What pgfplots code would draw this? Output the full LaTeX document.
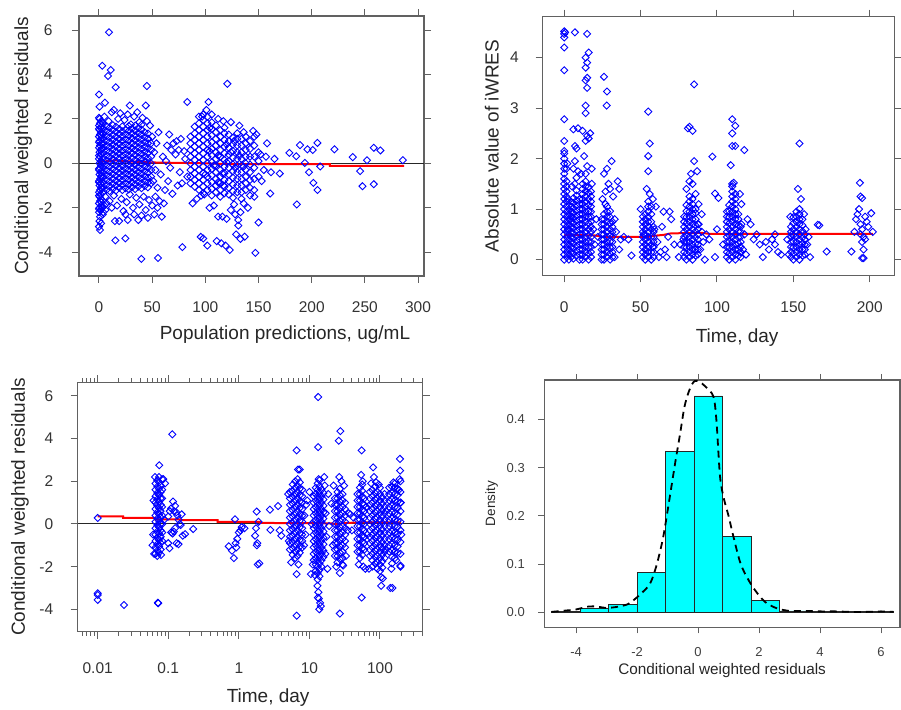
\documentclass[border=0pt]{standalone}
\usepackage{pgfplots}
\pgfplotsset{compat=1.18}
\usepackage{fontspec}
\setmainfont{Liberation Sans}
\definecolor{framegray}{gray}{0.38}
\definecolor{cy}{RGB}{0,255,255}
\pgfplotsset{
  panel/.style={
    scale only axis, anchor=south west,
    axis line style={framegray, line width=1.1pt},
    tick align=outside, major tick length=7pt, minor tick length=4pt,
    tick style={framegray, line width=1pt},
    tick label style={font=\fontsize{15.5}{18}\selectfont, text=black!80},
    label style={font=\fontsize{19}{22}\selectfont, text=black!85},
    xlabel style={anchor=center},
    ylabel style={anchor=center},
  },
  pts/.style={only marks, mark=square, mark size=2.5pt,
    mark options={rotate=45, draw=blue, fill=none, line width=0.9pt}},
}
\begin{document}
\begin{tikzpicture}
\useasboundingbox (0pt,0pt) rectangle (901pt,709pt);

% ---------------- Panel 1 ----------------
\begin{axis}[panel, at={(79pt,433pt)}, width=345pt, height=260pt,
  xmin=-18.8, xmax=305.6, ymin=-5.07, ymax=6.63,
  xtick={0,50,100,150,200,250,300}, xticklabels={0,50,100,150,200,250,300},
  ytick={-4,-2,0,2,4,6}, yticklabels={-4,-2,0,2,4,6},
  xticklabel shift=15pt, yticklabel shift=16pt,
  xlabel={Population predictions, ug/mL}, ylabel={Conditional weighted residuals},
  xlabel style={at={(axis description cs:0.597,-0.227)}},
  ylabel style={at={(axis description cs:-0.162,0.5)}}]
\addplot[pts] coordinates {
(0,-2.2)(1.5,-2.1)(0.5,-2.0)(2,-1.9)(0,-1.8)(1,-1.7)(2,-1.6)(0.5,-1.5)(1.5,-1.4)(0,-1.3)(1,-1.2)(2,-1.1)(0.5,-1.0)(1.5,-0.9)(0,-0.8)(1,-0.7)(2,-0.6)(0.5,-0.5)(1.5,-0.4)(0,-0.3)(1,-0.2)(2,-0.1)(0.5,0.0)(1.5,0.1)(0,0.2)(1,0.3)(2,0.4)(0.5,0.5)(1.5,0.6)(0,0.7)(1,0.8)(2,0.9)(0.5,1.0)(1.5,1.1)(0,1.2)(1,1.3)(2,1.4)(0.5,1.5)(1.5,1.6)(0,1.7)(1,1.8)(2,1.9)(0.5,2.0)(0,2.05)
(0,-2.05)(2.5,-1.75)(0,-1.45)(2.5,-1.15)(0,-0.85)(2.5,-0.55)(0,-0.25)(2.5,0.05)(0,0.35)(2.5,0.65)(0,0.95)(2.5,1.25)(0,1.55)(2.5,1.85)
(3,-2.0)(4,-2.2)(5,-1.9)(6,-2.1)(3.5,-2.3)(7,-1.8)
(0,3.1)(0.5,2.55)(5.6,2.73)(0,-2.85)(1,-3.0)(0.5,-2.6)(2,-2.7)(1,-2.4)
(4,-1.3)(4,-1.08)(4,-0.86)(4,-0.64)(4,-0.42)(4,-0.2)(4,0.02)(4,0.24)(4,0.46)(4,0.68)(4,0.9)(4,1.12)(4,1.34)(4,1.56)(4,1.78)
(7,-1.2)(7,-0.97)(7,-0.75)(7,-0.53)(7,-0.31)(7,-0.09)(7,0.13)(7,0.35)(7,0.57)(7,0.79)(7,1.01)(7,1.23)(7,1.45)(7,1.67)
(10,-1.25)(10,-1.03)(10,-0.81)(10,-0.59)(10,-0.37)(10,-0.15)(10,0.07)(10,0.29)(10,0.51)(10,0.73)(10,0.95)(10,1.17)(10,1.39)(10,1.61)
(13,-1.15)(13,-0.92)(13,-0.7)(13,-0.48)(13,-0.26)(13,-0.04)(13,0.18)(13,0.4)(13,0.62)(13,0.84)(13,1.06)(13,1.28)(13,1.5)(13,1.72)
(16,-1.22)(16,-1.0)(16,-0.78)(16,-0.56)(16,-0.34)(16,-0.12)(16,0.1)(16,0.32)(16,0.54)(16,0.76)(16,0.98)(16,1.2)(16,1.42)(16,1.64)
(19,-1.1)(19,-0.88)(19,-0.66)(19,-0.44)(19,-0.22)(19,0.0)(19,0.22)(19,0.44)(19,0.66)(19,0.88)(19,1.1)(19,1.32)(19,1.54)
(22,-1.2)(22,-0.98)(22,-0.76)(22,-0.54)(22,-0.32)(22,-0.1)(22,0.12)(22,0.34)(22,0.56)(22,0.78)(22,1.0)(22,1.22)(22,1.44)(22,1.66)
(25,-1.12)(25,-0.9)(25,-0.68)(25,-0.46)(25,-0.24)(25,-0.02)(25,0.2)(25,0.42)(25,0.64)(25,0.86)(25,1.08)(25,1.3)(25,1.52)
(28,-1.18)(28,-0.96)(28,-0.74)(28,-0.52)(28,-0.3)(28,-0.08)(28,0.14)(28,0.36)(28,0.58)(28,0.8)(28,1.02)(28,1.24)(28,1.46)(28,1.68)
(31,-1.08)(31,-0.86)(31,-0.64)(31,-0.42)(31,-0.2)(31,0.02)(31,0.24)(31,0.46)(31,0.68)(31,0.9)(31,1.12)(31,1.34)(31,1.56)
(34,-1.16)(34,-0.94)(34,-0.72)(34,-0.5)(34,-0.28)(34,-0.06)(34,0.16)(34,0.38)(34,0.6)(34,0.82)(34,1.04)(34,1.26)(34,1.48)(34,1.7)
(37,-1.05)(37,-0.83)(37,-0.61)(37,-0.39)(37,-0.17)(37,0.05)(37,0.27)(37,0.49)(37,0.71)(37,0.93)(37,1.15)(37,1.37)(37,1.59)
(40,-1.12)(40,-0.9)(40,-0.68)(40,-0.46)(40,-0.24)(40,-0.02)(40,0.2)(40,0.42)(40,0.64)(40,0.86)(40,1.08)(40,1.3)(40,1.52)(40,1.74)
(43,-1.02)(43,-0.8)(43,-0.58)(43,-0.36)(43,-0.14)(43,0.08)(43,0.3)(43,0.52)(43,0.74)(43,0.96)(43,1.18)(43,1.4)
(46,-1.08)(46,-0.86)(46,-0.64)(46,-0.42)(46,-0.2)(46,0.02)(46,0.24)(46,0.46)(46,0.68)(46,0.9)(46,1.12)(46,1.34)
(49,-0.9)(49,-0.6)(49,-0.3)(49,0.0)(49,0.3)(49,0.6)(49,0.9)
(5,2.1)(9,1.9)(12,2.3)(18,2.0)(24,1.95)(27,2.2)(33,2.1)(38,1.85)(41,2.05)(45,1.9)(48,1.7)(20,2.25)(30,1.75)(36,2.3)
(6,-1.5)(10,-1.7)(14,-1.45)(17,-1.9)(21,-1.6)(23,-2.15)(26,-1.75)(29,-1.4)(32,-2.0)(35,-1.55)(38,-1.85)(42,-1.5)(44,-2.1)(47,-1.65)(19,-2.6)(27,-2.55)(37,-2.55)(46,-2.45)(25,-2.3)(33,-2.3)(40,-2.35)(15,-2.6)(12,-2.0)
(9.4,5.9)(3.1,4.39)(11,4.2)(8.5,3.93)(15.7,3.42)(45,3.48)(14,2.4)(29,2.6)(44,2.6)(15.4,-3.47)(24.8,-3.38)(39.8,-4.3)(55.5,-4.26)
(50,1.2)(52,0.5)(53,-0.3)(55,-1.1)(51,-0.8)(54,0.9)(56,1.4)(58,-0.5)(60,0.3)(62,-1.2)(57,-1.7)(59,-2.4)(64,0.8)(66,1.3)(68,0.6)(67,-0.2)(69,-1.37)(70,0.9)(65,-0.8)(72,0.4)(73,1.0)(75,0.6)(76,-0.4)(78,-0.9)(80,0.55)(83,-0.6)(81,0.2)(77,1.1)(74,-1.0)(63,0.1)(61,-1.8)(53,-1.5)(50,-1.9)(52,-2.3)(55,-2.0)(78.4,-3.77)(83,2.76)
(86,-0.9)(86,-0.6)(86,-0.3)(86,0.0)(86,0.3)(86,0.6)(86,0.9)(86,1.2)
(90,-1.05)(90,-0.75)(90,-0.45)(90,-0.15)(90,0.15)(90,0.45)(90,0.75)(90,1.05)(90,1.35)(90,1.65)
(94,-1.2)(94,-0.9)(94,-0.6)(94,-0.3)(94,0.0)(94,0.3)(94,0.6)(94,0.9)(94,1.2)(94,1.5)(94,1.8)(94,2.1)
(98,-1.35)(98,-1.05)(98,-0.75)(98,-0.45)(98,-0.15)(98,0.15)(98,0.45)(98,0.75)(98,1.05)(98,1.35)(98,1.65)(98,1.95)(98,2.2)
(102,-1.2)(102,-0.9)(102,-0.6)(102,-0.3)(102,0.0)(102,0.3)(102,0.6)(102,0.9)(102,1.2)(102,1.5)(102,1.8)(102,2.1)
(106,-1.45)(106,-1.15)(106,-0.85)(106,-0.55)(106,-0.25)(106,0.05)(106,0.35)(106,0.65)(106,0.95)(106,1.25)(106,1.55)(106,1.85)
(110,-1.3)(110,-1.0)(110,-0.7)(110,-0.4)(110,-0.1)(110,0.2)(110,0.5)(110,0.8)(110,1.1)(110,1.4)(110,1.7)
(114,-1.5)(114,-1.2)(114,-0.9)(114,-0.6)(114,-0.3)(114,0.0)(114,0.3)(114,0.6)(114,0.9)(114,1.2)(114,1.5)
(118,-1.35)(118,-1.05)(118,-0.75)(118,-0.45)(118,-0.15)(118,0.15)(118,0.45)(118,0.75)(118,1.05)(118,1.35)(118,1.6)
(122,-1.4)(122,-1.1)(122,-0.8)(122,-0.5)(122,-0.2)(122,0.1)(122,0.4)(122,0.7)(122,1.0)(122,1.3)
(126,-1.55)(126,-1.25)(126,-0.95)(126,-0.65)(126,-0.35)(126,-0.05)(126,0.25)(126,0.55)(126,0.85)(126,1.15)
(130,-1.3)(130,-1.0)(130,-0.7)(130,-0.4)(130,-0.1)(130,0.2)(130,0.5)(130,0.8)(130,1.1)(130,1.35)
(134,-1.6)(134,-1.3)(134,-1.0)(134,-0.7)(134,-0.4)(134,-0.1)(134,0.2)(134,0.5)(134,0.8)(134,1.1)
(138,-1.2)(138,-0.9)(138,-0.6)(138,-0.3)(138,0.0)(138,0.3)(138,0.6)(138,0.9)(138,1.2)
(142,-1.45)(142,-1.1)(142,-0.75)(142,-0.4)(142,-0.05)(142,0.3)(142,0.65)(142,1.0)
(146,-1.2)(146,-0.7)(146,-0.2)(146,0.3)(146,0.8)(146,1.2)(150,-0.6)(150,0.1)(150,0.5)
(108,-0.1)(112,0.35)(116,-0.45)(120,0.05)(124,0.5)(128,-0.2)(104,0.55)(100,-0.5)(132,0.35)(136,-0.15)(112,-0.85)(120,0.85)(127,1.0)(104,1.6)(117,-1.0)
(88,-1.8)(92,-1.6)(96,-1.45)(99,-1.4)(104,-2.0)(108,-1.9)(112,-2.4)(116,-2.4)(120,-2.5)(124,-2.1)(128,-2.3)(131,-2.55)(133,-2.2)(136,-1.8)(140,-2.0)(127,-1.85)(95.7,-3.31)(98,-3.38)(101.9,-3.70)(110.7,-3.5)(115,-3.6)(119,-3.7)(123,-3.9)(129,-3.2)(133,-3.4)(137,-3.3)(131,-2.8)(147,-4.03)(150,-2.66)(146,-1.5)
(103,2.76)(120.7,3.58)(97,2.1)(101,2.4)(106,2.2)(112,2.0)(117,1.9)(124,1.85)(132,1.7)(136,1.4)(145,1.46)(148,1.3)
(152,0.4)(155,-0.3)(157,0.3)(161,-1.36)(161.7,-0.4)(170,-0.46)(179,0.47)(185.5,0.32)(189,0.82)(196,0.63)(201,0.6)(205.4,0.92)(193.5,0.02)(197.5,-0.4)(201.6,-0.88)(205.4,-1.2)(208,-0.14)(186,-1.85)(221.4,0.63)(238.6,0.28)(245.5,-0.35)(247.7,-1.03)(252,0.14)(258.4,0.7)(264.6,0.58)(258.4,-0.94)(285.7,0.14)(153,-0.8)(158,0.9)(165,0.2)
};
\addplot[black!85, line width=1pt] coordinates {(-18.8,0) (305.6,0)};
\addplot[red, line width=2pt] coordinates {(0,0.08)(10,0.1)(15,0.14)(20,0.11)(30,0.08)(50,0.04)(75,0.02)(100,0.0)(120,-0.03)(150,-0.04)(180,-0.04)(217,-0.04)(217,-0.11)(287,-0.11)};
\end{axis}

% ---------------- Panel 2 ----------------
\begin{axis}[panel, at={(542.7pt,433.7pt)}, width=351.6pt, height=258.6pt,
  xmin=-14.1, xmax=216.1, ymin=-0.31, ymax=4.81,
  xtick={0,50,100,150,200}, xticklabels={0,50,100,150,200},
  ytick={0,1,2,3,4}, yticklabels={0,1,2,3,4},
  xticklabel shift=15.5pt, yticklabel shift=13.5pt,
  xlabel={Time, day}, ylabel={Absolute value of iWRES},
  xlabel style={at={(axis description cs:0.553,-0.24)}},
  ylabel style={at={(axis description cs:-0.145,0.5)}}]
\addplot[pts] coordinates {
(0,0)(0,0.1)(0,0.2)(0,0.3)(0,0.4)(0,0.5)(0,0.6)(0,0.7)(0,0.8)(0,0.9)(0,1.0)(0,1.1)(0,1.2)(0,1.3)(0,1.4)(0,1.5)(0,1.6)(0,1.7)(0,1.8)(0,1.9)
(0,2.0)(0,2.1)(0,2.15)(0,2.35)(0,2.78)(0,3.75)(0,4.2)(0,4.4)(0,4.47)(0,4.52)(0.5,4.5)
(1.5,0.05)(1.5,0.15)(1.5,0.25)(1.5,0.35)(1.5,0.45)(1.5,0.55)(1.5,0.65)(1.5,0.75)(1.5,0.85)(1.5,0.95)(1.5,1.05)(1.5,1.15)(1.5,1.25)(1.5,1.35)(1.5,1.45)(1.5,1.55)(1.5,1.8)(2,1.9)(2.5,1.2)(2.5,0.6)(3,0.3)(3,0.9)
(3,0)(3,0.1)(3,0.2)(3,0.4)(3,0.5)(3,0.6)(3,0.7)(3,0.8)(3,1.0)
(4.5,0.05)(4.5,0.15)(4.5,0.25)(4.5,0.35)(4.5,0.45)(4.5,0.55)(4.5,0.65)(4.5,0.75)(4.5,0.85)(4.5,0.95)(4.5,1.05)(4.5,1.15)
(6,0.02)(6,0.12)(6,0.22)(6,0.32)(6,0.42)(6,0.52)(6,0.62)(6,0.72)(6,0.82)(6,0.92)(6,1.02)(6,1.12)(6,1.22)
(8,0.07)(8,0.17)(8,0.27)(8,0.37)(8,0.47)(8,0.57)(8,0.67)(8,0.77)(8,0.87)(8,0.97)(8,1.07)(8,1.17)(8,1.27)(8,1.37)
(10,0)(10,0.1)(10,0.2)(10,0.3)(10,0.4)(10,0.6)(10,0.7)(10,0.8)(10,0.9)(10,1.0)(10,1.2)
(7,1.5)(8,1.62)(6,1.8)(7,1.95)(8,2.2)(7,2.25)(6,2.58)(9,2.6)(7,4.5)(5,1.45)(9,1.75)(10,0.5)(10,1.1)(4,0.8)
(12,0)(12,0.1)(12,0.2)(12,0.3)(12,0.4)(12,0.5)(12,0.6)(12,0.7)(12,0.8)(12,0.9)(12,1.0)(12,1.1)(12,1.2)(12,1.3)(12,1.4)(12,1.5)
(14,0.05)(14,0.15)(14,0.25)(14,0.35)(14,0.45)(14,0.55)(14,0.65)(14,0.75)(14,0.85)(14,0.95)(14,1.05)(14,1.15)(14,1.25)(14,1.35)(14,1.45)(14,1.55)
(16,0)(16,0.12)(16,0.24)(16,0.36)(16,0.48)(16,0.6)(16,0.72)(16,0.84)(16,0.96)(16,1.08)(16,1.2)(16,1.32)(16,1.44)
(17.5,0.05)(17.5,0.15)(17.5,0.25)(17.5,0.35)(17.5,0.45)(17.5,0.55)(17.5,0.65)(17.5,0.75)(17.5,0.85)(17.5,0.95)(17.5,1.05)(17.5,1.15)(17.5,1.25)(17.5,1.35)
(14,1.7)(15,1.85)(13,2.05)(16,2.4)(14,2.35)(15,2.45)(17,2.5)(12,2.55)(14,2.9)(14,3.05)(15,3.4)(14,3.55)(15,3.6)(14,3.8)(15,3.9)(14,4.0)(16,4.1)(15,4.47)(18,1.8)(18,1.5)(11,1.7)(19,0.6)(20,0.3)(21,0.8)(22,0.45)
(24.5,0)(24.5,0.1)(24.5,0.2)(24.5,0.3)(24.5,0.4)(24.5,0.5)(24.5,0.6)(24.5,0.7)(24.5,0.8)
(26,0)(26,0.1)(26,0.2)(26,0.3)(26,0.4)(26,0.5)(26,0.6)(26,0.7)(26,0.8)(26,0.9)
(28,0.05)(28,0.15)(28,0.25)(28,0.35)(28,0.45)(28,0.55)(28,0.65)(28,0.75)(28,0.85)(28,0.95)(28,1.05)
(30,0)(30,0.12)(30,0.24)(30,0.36)(30,0.48)(30,0.6)(30,0.72)(30,0.84)(30,0.96)
(31.5,0.05)(31.5,0.15)(31.5,0.25)(31.5,0.35)(31.5,0.45)(31.5,0.55)(31.5,0.65)(31.5,0.75)
(25,1.2)(27,1.35)(29,1.5)(26,1.7)(28,1.8)(31,1.95)(30,1.4)(27,1.1)(32,1.25)(33,0.8)(34,0.55)(35,1.55)(36,1.4)(37,0.4)(39,0.45)(42,0.4)(44,0.08)(33,0.05)(36,0.2)(27.8,3.05)(28,3.33)(26,3.62)
(51.5,0.05)(51.5,0.15)(51.5,0.25)(51.5,0.35)(51.5,0.45)(51.5,0.55)(51.5,0.65)(51.5,0.75)(51.5,0.85)
(53,0)(53,0.1)(53,0.2)(53,0.3)(53,0.4)(53,0.5)(53,0.6)(53,0.7)(53,0.8)(53,0.9)
(55,0.05)(55,0.15)(55,0.25)(55,0.35)(55,0.45)(55,0.55)(55,0.65)(55,0.75)(55,0.85)(55,0.95)(55,1.05)(55,1.15)
(57,0)(57,0.15)(57,0.3)(57,0.45)(57,0.6)(57,0.75)(57,0.9)(57,1.05)
(58.5,0.05)(58.5,0.15)(58.5,0.25)(58.5,0.35)(58.5,0.45)(58.5,0.55)(58.5,0.65)
(50,1.0)(52,0.5)(54,1.4)(56,1.3)(58,1.2)(55,1.75)(55,2.05)(56,2.3)(55,2.93)(59,0.6)(60,1.05)(61,0.35)(62,0.05)(64,0.65)(65,0.95)(66,0.2)(67,0.05)(68,0.45)(70,0.8)(69,0.95)(72,0.3)(75,0.05)(63,0.15)(58,0.25)
(78.5,0.05)(78.5,0.15)(78.5,0.25)(78.5,0.35)(78.5,0.45)(78.5,0.55)(78.5,0.65)(78.5,0.75)(78.5,0.85)
(80,0)(80,0.12)(80,0.24)(80,0.36)(80,0.48)(80,0.6)(80,0.72)(80,0.84)(80,0.96)(80,1.08)
(82,0.05)(82,0.15)(82,0.25)(82,0.35)(82,0.45)(82,0.55)(82,0.65)(82,0.75)(82,0.85)(82,0.95)(82,1.05)(82,1.15)(82,1.25)
(84,0)(84,0.1)(84,0.2)(84,0.3)(84,0.4)(84,0.5)(84,0.6)(84,0.7)(84,0.8)(84,0.9)(84,1.0)(84,1.1)(84,1.2)
(86,0.08)(86,0.2)(86,0.32)(86,0.44)(86,0.56)(86,0.68)(86,0.8)(86,0.92)(86,1.0)
(87.5,0.1)(87.5,0.2)(87.5,0.3)(87.5,0.4)(87.5,0.5)(87.5,0.6)(87.5,0.7)
(78,0.4)(76,0.3)(80,1.4)(82,1.55)(83,1.7)(85,1.95)(84,1.5)(86,1.3)(88,1.1)(88,0.7)(90,0.55)(90,0.9)(89,0.2)(91,0.35)(81,2.6)(82,2.63)(84,2.55)(85,3.47)(87,1.75)(92,0.0)
(97,2.04)(98.7,1.31)(101,1.22)(98.7,0.05)(93,0.5)(95,0.4)(100,0.6)(104,0.3)
(106.5,0.05)(106.5,0.15)(106.5,0.25)(106.5,0.35)(106.5,0.45)(106.5,0.55)(106.5,0.65)(106.5,0.75)(106.5,0.85)(106.5,0.95)
(108,0)(108,0.12)(108,0.24)(108,0.36)(108,0.48)(108,0.6)(108,0.72)(108,0.84)(108,0.96)(108,1.08)
(110,0.05)(110,0.15)(110,0.25)(110,0.35)(110,0.45)(110,0.55)(110,0.65)(110,0.75)(110,0.85)(110,0.95)(110,1.05)(110,1.15)(110,1.25)(110,1.35)(110,1.45)
(112,0)(112,0.1)(112,0.2)(112,0.3)(112,0.4)(112,0.5)(112,0.6)(112,0.7)(112,0.8)(112,0.9)(112,1.0)(112,1.1)(112,1.2)(112,1.3)
(114,0.08)(114,0.2)(114,0.32)(114,0.44)(114,0.56)(114,0.68)(114,0.8)(114,0.9)
(115.5,0.05)(115.5,0.15)(115.5,0.25)(115.5,0.35)(115.5,0.45)(115.5,0.55)(115.5,0.65)
(110,1.5)(111,1.52)(109,1.87)(110,2.25)(112,2.25)(110,2.5)(112,2.65)(110,2.78)(117.9,2.17)(116,1.1)(115,1.3)(116,0.7)(118,0.5)(117,0.2)(119,0.1)(120,0.8)(122,0.7)(124,0.4)(126,0.5)(128,0.3)(130,0.05)(132,0.35)(134,0.2)(136,0.4)(138,0.3)(140,0.15)(142,0.1)(138,0.5)
(148.5,0.05)(148.5,0.15)(148.5,0.25)(148.5,0.35)(148.5,0.45)(148.5,0.55)(148.5,0.65)
(150,0)(150,0.12)(150,0.24)(150,0.36)(150,0.48)(150,0.6)(150,0.72)(150,0.84)
(152,0.05)(152,0.15)(152,0.25)(152,0.35)(152,0.45)(152,0.55)(152,0.65)(152,0.75)(152,0.85)(152,0.95)
(154,0)(154,0.1)(154,0.2)(154,0.3)(154,0.4)(154,0.5)(154,0.6)(154,0.7)(154,0.8)(154,0.9)(154,1.0)
(156,0.08)(156,0.2)(156,0.32)(156,0.44)(156,0.56)(156,0.68)(156,0.8)
(157.5,0.1)(157.5,0.2)(157.5,0.3)(157.5,0.4)(157.5,0.5)
(148,0.85)(149,0.5)(146,0.4)(147,0.1)(153,1.4)(155,1.2)(154,2.3)(157,0.9)(158,0.6)(160,0.45)(161,0.05)(166,0.69)(167,0.68)(171.8,0.16)(159,0.3)
(188,0.16)(190,0.55)(191,0.8)(192,0.9)(193,1.0)(194,1.25)(195,1.22)(193.6,1.52)(194,0.7)(195,0.6)(196,0.45)(195,0.35)(197,0.4)(196,0.03)(195,0.03)(194,0.5)(198,0.75)(199,0.65)(201,0.92)(202,0.55)(197,0.85)(196,0.2)
};
\addplot[red, line width=2pt] coordinates {(0,0.49)(20,0.48)(25,0.45)(55,0.45)(58,0.47)(65,0.49)(70,0.52)(90,0.53)(95,0.51)(110,0.51)(150,0.51)(202,0.51)};
\end{axis}

% ---------------- Panel 3 ----------------
\begin{axis}[panel, at={(77.7pt,77.3pt)}, width=345pt, height=249.4pt,
  xmode=log, xmin=0.00521, xmax=403, ymin=-5.05, ymax=6.64,
  xtick={0.01,0.1,1,10,100}, xticklabels={0.01,0.1,1,10,100},
  minor xtick={0.006,0.007,0.008,0.009,0.02,0.03,0.04,0.05,0.06,0.07,0.08,0.09,0.2,0.3,0.4,0.5,0.6,0.7,0.8,0.9,2,3,4,5,6,7,8,9,20,30,40,50,60,70,80,90,200,300,400},
  ytick={-4,-2,0,2,4,6}, yticklabels={-4,-2,0,2,4,6},
  xticklabel shift=20.5pt, yticklabel shift=14pt,
  xlabel={Time, day}, ylabel={Conditional weighted residuals},
  xlabel style={at={(axis description cs:0.552,-0.265)}},
  ylabel style={at={(axis description cs:-0.167,0.5)}}]
\addplot[pts] coordinates {
(0.01,0.28)(0.01,-3.25)(0.01,-3.33)(0.01,-3.56)(0.0236,-3.8)(0.0714,-3.69)(0.072,-3.72)
(0.066,-1.4)(0.066,-1.1)(0.066,-0.8)(0.066,-0.5)(0.066,-0.2)(0.066,0.1)(0.066,0.4)(0.066,0.7)(0.066,1.0)(0.066,1.3)(0.066,1.6)(0.066,1.9)
(0.07,-1.25)(0.07,-0.95)(0.07,-0.65)(0.07,-0.35)(0.07,-0.05)(0.07,0.25)(0.07,0.55)(0.07,0.85)(0.07,1.15)(0.07,1.45)(0.07,1.75)(0.07,2.05)
(0.074,-1.35)(0.074,-1.05)(0.074,-0.75)(0.074,-0.45)(0.074,-0.15)(0.074,0.15)(0.074,0.45)(0.074,0.75)(0.074,1.05)(0.074,1.35)(0.074,1.65)(0.074,1.95)(0.074,2.2)
(0.078,-1.2)(0.078,-0.9)(0.078,-0.6)(0.078,-0.3)(0.078,0.0)(0.078,0.3)(0.078,0.6)(0.078,0.9)(0.078,1.2)(0.078,1.5)(0.078,1.8)
(0.082,-0.8)(0.082,-0.4)(0.082,0.0)(0.082,0.4)(0.082,0.8)(0.082,1.2)(0.082,1.6)(0.082,2.1)
(0.06,-1.0)(0.061,-0.5)(0.062,1.1)(0.063,-1.4)(0.0746,2.75)(0.085,2.1)(0.09,1.9)(0.088,0.2)(0.065,2.2)(0.07,-1.5)(0.079,-1.45)
(0.104,-1.14)(0.11,0.73)(0.117,1.05)(0.12,0.6)(0.125,0.85)(0.13,0.55)(0.135,0.4)(0.14,0.2)(0.145,0.0)(0.131,-0.9)(0.12,-0.36)(0.115,-0.45)(0.125,-0.2)(0.173,-0.48)(0.226,-0.24)(0.15,-0.05)(0.11,-0.4)(0.1,0.35)(0.105,0.6)(0.114,4.2)(0.14,-0.95)(0.16,-0.55)(0.155,0.45)(0.1,-0.9)
(0.72,-1.05)(0.8,-1.25)(0.85,-1.6)(0.88,0.22)(0.9,-0.9)(0.95,-0.7)(1.0,-0.4)(1.05,-0.3)(1.1,-0.15)(0.92,-1.1)(1.79,0.58)(1.83,-0.9)(1.85,-1.9)(1.8,-1.0)(1.75,-0.2)(1.7,-0.55)(1.9,0.1)(2.76,0.67)(3.6,0.84)(2.8,-0.28)(3.8,-0.3)(4.0,-0.55)(1.95,-1.85)(1.2,-0.2)
(5.3,-1.2)(5.3,-0.9)(5.3,-0.6)(5.3,-0.3)(5.3,0.0)(5.3,0.3)(5.3,0.6)(5.3,0.9)(5.3,1.2)(5.3,1.5)
(5.8,-1.45)(5.8,-1.15)(5.8,-0.85)(5.8,-0.55)(5.8,-0.25)(5.8,0.05)(5.8,0.35)(5.8,0.65)(5.8,0.95)(5.8,1.25)(5.8,1.55)(5.8,1.85)
(6.3,-1.6)(6.3,-1.3)(6.3,-1.0)(6.3,-0.7)(6.3,-0.4)(6.3,-0.1)(6.3,0.2)(6.3,0.5)(6.3,0.8)(6.3,1.1)(6.3,1.4)(6.3,1.7)(6.3,2.0)
(6.8,-1.5)(6.8,-1.2)(6.8,-0.9)(6.8,-0.6)(6.8,-0.3)(6.8,0.0)(6.8,0.3)(6.8,0.6)(6.8,0.9)(6.8,1.2)(6.8,1.5)(6.8,1.8)(6.8,2.1)
(7.3,-1.35)(7.3,-1.05)(7.3,-0.75)(7.3,-0.45)(7.3,-0.15)(7.3,0.15)(7.3,0.45)(7.3,0.75)(7.3,1.05)(7.3,1.35)(7.3,1.65)(7.3,1.95)
(7.9,-1.1)(7.9,-0.8)(7.9,-0.5)(7.9,-0.2)(7.9,0.1)(7.9,0.4)(7.9,0.7)(7.9,1.0)(7.9,1.3)(7.9,1.6)
(6.6,3.45)(6.9,2.55)(7.3,2.55)(6.6,-2.35)(6.6,-4.3)(5.0,1.4)(5.1,-0.8)(8.5,0.4)(8.8,-0.5)(9.0,0.9)(9.3,1.1)(8.4,-1.0)(5.5,-1.8)(7.0,-1.9)
(11.5,-1.7)(11.5,-1.4)(11.5,-1.1)(11.5,-0.8)(11.5,-0.5)(11.5,-0.2)(11.5,0.1)(11.5,0.4)(11.5,0.7)(11.5,1.0)(11.5,1.3)
(12.3,-2.2)(12.3,-1.9)(12.3,-1.6)(12.3,-1.3)(12.3,-1.0)(12.3,-0.7)(12.3,-0.4)(12.3,-0.1)(12.3,0.2)(12.3,0.5)(12.3,0.8)(12.3,1.1)(12.3,1.4)(12.3,1.7)
(13.1,-2.6)(13.1,-2.3)(13.1,-2.0)(13.1,-1.7)(13.1,-1.4)(13.1,-1.1)(13.1,-0.8)(13.1,-0.5)(13.1,-0.2)(13.1,0.1)(13.1,0.4)(13.1,0.7)(13.1,1.0)(13.1,1.3)(13.1,1.6)(13.1,1.9)
(13.9,-2.45)(13.9,-2.15)(13.9,-1.85)(13.9,-1.55)(13.9,-1.25)(13.9,-0.95)(13.9,-0.65)(13.9,-0.35)(13.9,-0.05)(13.9,0.25)(13.9,0.55)(13.9,0.85)(13.9,1.15)(13.9,1.45)(13.9,1.75)(13.9,2.05)
(14.8,-2.0)(14.8,-1.7)(14.8,-1.4)(14.8,-1.1)(14.8,-0.8)(14.8,-0.5)(14.8,-0.2)(14.8,0.1)(14.8,0.4)(14.8,0.7)(14.8,1.0)(14.8,1.3)(14.8,1.6)
(15.8,-1.55)(15.8,-1.25)(15.8,-0.95)(15.8,-0.65)(15.8,-0.35)(15.8,-0.05)(15.8,0.25)(15.8,0.55)(15.8,0.85)(15.8,1.15)(15.8,1.45)
(13.3,5.95)(13.3,3.6)(13.5,2.1)(13.0,-2.9)(13.4,-3.2)(13.2,-3.45)(13.6,-3.5)(14.2,-3.7)(13.8,-4.0)(14.5,-3.85)(12.0,-2.4)(10.5,-2.35)(10.0,1.5)(16.5,1.8)(17.5,-0.6)(18.5,1.4)(17.0,0.5)(16.8,-1.4)(19,-0.1)(20.5,0.95)(18.0,-2.1)(10.8,0.0)(16.2,2.2)(11.2,-1.9)
(23,-1.5)(23,-1.2)(23,-0.9)(23,-0.6)(23,-0.3)(23,0.0)(23,0.3)(23,0.6)(23,0.9)(23,1.2)
(25,-1.8)(25,-1.5)(25,-1.2)(25,-0.9)(25,-0.6)(25,-0.3)(25,0.0)(25,0.3)(25,0.6)(25,0.9)(25,1.2)(25,1.5)
(27,-1.65)(27,-1.35)(27,-1.05)(27,-0.75)(27,-0.45)(27,-0.15)(27,0.15)(27,0.45)(27,0.75)(27,1.05)(27,1.35)(27,1.65)
(29.5,-1.9)(29.5,-1.6)(29.5,-1.3)(29.5,-1.0)(29.5,-0.7)(29.5,-0.4)(29.5,-0.1)(29.5,0.2)(29.5,0.5)(29.5,0.8)(29.5,1.1)(29.5,1.4)
(32,-1.1)(32,-0.8)(32,-0.5)(32,-0.2)(32,0.1)(32,0.4)(32,0.7)(32,1.0)
(27.5,4.35)(26,3.9)(26.5,2.2)(28.5,2.0)(27,-2.3)(27,-4.2)(30,-1.95)(33,-1.5)(35,-0.3)(36,0.5)(38,0.45)(40,-0.3)(42,0.3)(22,1.8)(21.5,-1.0)(31,1.8)(24,-2.0)
(48,-1.3)(48,-1.0)(48,-0.7)(48,-0.4)(48,-0.1)(48,0.2)(48,0.5)(48,0.8)(48,1.1)(48,1.4)
(52,-1.6)(52,-1.3)(52,-1.0)(52,-0.7)(52,-0.4)(52,-0.1)(52,0.2)(52,0.5)(52,0.8)(52,1.1)(52,1.4)(52,1.7)
(56,-1.45)(56,-1.15)(56,-0.85)(56,-0.55)(56,-0.25)(56,0.05)(56,0.35)(56,0.65)(56,0.95)(56,1.25)(56,1.55)(56,1.85)
(60,-1.2)(60,-0.9)(60,-0.6)(60,-0.3)(60,0.0)(60,0.3)(60,0.6)(60,0.9)(60,1.2)
(55,3.45)(55,-3.45)(54,2.3)(57,2.0)(58,-2.0)(62,-2.1)(50,-1.9)(64,0.8)(66,-0.5)
(72,-1.5)(72,-1.2)(72,-0.9)(72,-0.6)(72,-0.3)(72,0.0)(72,0.3)(72,0.6)(72,0.9)(72,1.2)(72,1.5)
(78,-2.0)(78,-1.7)(78,-1.4)(78,-1.1)(78,-0.8)(78,-0.5)(78,-0.2)(78,0.1)(78,0.4)(78,0.7)(78,1.0)(78,1.3)(78,1.6)
(85,-1.85)(85,-1.55)(85,-1.25)(85,-0.95)(85,-0.65)(85,-0.35)(85,-0.05)(85,0.25)(85,0.55)(85,0.85)(85,1.15)(85,1.45)(85,1.75)
(92,-2.1)(92,-1.8)(92,-1.5)(92,-1.2)(92,-0.9)(92,-0.6)(92,-0.3)(92,0.0)(92,0.3)(92,0.6)(92,0.9)(92,1.2)(92,1.5)
(100,-2.2)(100,-1.9)(100,-1.6)(100,-1.3)(100,-1.0)(100,-0.7)(100,-0.4)(100,-0.1)(100,0.2)(100,0.5)(100,0.8)(100,1.1)(100,1.4)(100,1.7)
(108,-2.05)(108,-1.75)(108,-1.45)(108,-1.15)(108,-0.85)(108,-0.55)(108,-0.25)(108,0.05)(108,0.35)(108,0.65)(108,0.95)(108,1.25)
(116,-1.6)(116,-1.3)(116,-1.0)(116,-0.7)(116,-0.4)(116,-0.1)(116,0.2)(116,0.5)(116,0.8)(116,1.1)(116,1.4)
(80,2.65)(82,2.2)(75,1.9)(104,-2.5)(104,-2.9)(110,-2.55)(70,-2.1)(88,1.95)(96,1.85)(120,-1.2)(122,0.6)
(135,-1.3)(135,-1.0)(135,-0.7)(135,-0.4)(135,-0.1)(135,0.2)(135,0.5)(135,0.8)(135,1.1)(135,1.4)(135,1.7)
(148,-1.85)(148,-1.55)(148,-1.25)(148,-0.95)(148,-0.65)(148,-0.35)(148,-0.05)(148,0.25)(148,0.55)(148,0.85)(148,1.15)(148,1.45)(148,1.75)
(162,-1.6)(162,-1.3)(162,-1.0)(162,-0.7)(162,-0.4)(162,-0.1)(162,0.2)(162,0.5)(162,0.8)(162,1.1)(162,1.4)(162,1.7)(162,1.9)
(178,-1.35)(178,-1.05)(178,-0.75)(178,-0.45)(178,-0.15)(178,0.15)(178,0.45)(178,0.75)(178,1.05)(178,1.35)(178,1.65)
(195,-2.0)(195,-1.4)(195,-0.85)(195,-0.3)(195,0.1)(195,0.6)(195,1.0)(195,1.5)(195,2.0)
(192,3.05)(193,2.5)(140,-3.0)(150,-3.0)(195,-1.95)(190,2.1)(198,1.0)(200,-0.5)(170,-1.7)(155,1.95)(185,1.6)(145,-2.1)
};
\addplot[black!85, line width=1pt] coordinates {(0.00521,0) (403,0)};
\addplot[red, line width=2pt] coordinates {(0.01,0.35)(0.023,0.35)(0.023,0.28)(0.065,0.28)(0.065,0.22)(0.15,0.22)(0.15,0.18)(0.5,0.18)(0.5,0.1)(2,0.1)(2,0.05)(5,0.04)(10,0.04)(20,0.03)(25,-0.02)(30,0.04)(50,0.07)(100,0.08)(200,0.08)};
\end{axis}

% ---------------- Panel 4 ----------------
\begin{axis}[panel, at={(544.3pt,81.7pt)}, width=355.7pt, height=247.3pt,
  xmin=-5.04, xmax=6.62, ymin=-0.031, ymax=0.482,
  xtick={-4,-2,0,2,4,6}, xticklabels={-4,-2,0,2,4,6},
  ytick={0,0.1,0.2,0.3,0.4}, yticklabels={0.0,0.1,0.2,0.3,0.4},
  tick label style={font=\fontsize{13}{15}\selectfont, text=black!75},
  major tick length=6pt,
  xticklabel shift=10.4pt, yticklabel shift=10pt,
  xlabel={Conditional weighted residuals}, ylabel={Density},
  xlabel style={font=\fontsize{15.3}{18}\selectfont, at={(axis description cs:0.5,-0.174)}},
  ylabel style={font=\fontsize{13.5}{16}\selectfont, at={(axis description cs:-0.148,0.5)}}]
\addplot[ybar interval, fill=cy, draw=black!85, line width=0.8pt] coordinates {
(-4.8,0.002)(-3.867,0.009)(-2.933,0.016)(-2.0,0.083)(-1.067,0.333)(-0.133,0.449)(0.8,0.157)(1.733,0.025)(2.667,0.003)(3.6,0.002)(4.533,0.001)(5.467,0.001)(6.4,0.001)};
\addplot[black, line width=1.8pt, dash pattern=on 7pt off 5pt, smooth] coordinates {
(-4.8,0.001)(-4.3,0.004)(-4.0,0.006)(-3.6,0.012)(-3.3,0.012)(-3.0,0.009)(-2.6,0.012)(-2.3,0.017)(-2.1,0.026)(-1.85,0.04)(-1.57,0.06)(-1.35,0.1)(-1.14,0.157)(-0.95,0.23)(-0.75,0.31)(-0.59,0.37)(-0.45,0.425)(-0.32,0.455)(-0.2,0.473)(-0.1,0.48)(0.05,0.478)(0.25,0.468)(0.5,0.448)(0.6,0.4)(0.72,0.282)(0.85,0.235)(1.0,0.2)(1.16,0.157)(1.4,0.1)(1.7,0.062)(2.0,0.035)(2.25,0.019)(2.6,0.008)(3.0,0.003)(3.5,0.003)(4.0,0.002)(4.5,0.002)(5.0,0.001)(5.5,0.001)(6.0,0.002)(6.4,0.001)};
\end{axis}
\end{tikzpicture}
\end{document}
